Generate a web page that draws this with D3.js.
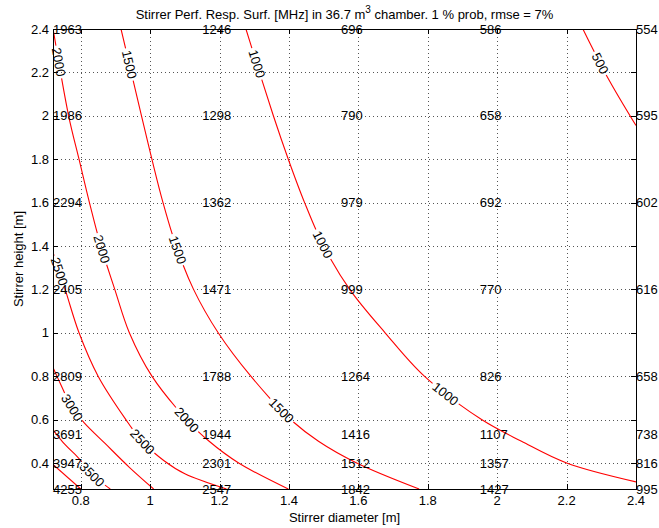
<!DOCTYPE html>
<html>
<head>
<meta charset="utf-8">
<script src="https://cdn.jsdelivr.net/npm/d3@7"></script>
<style>
  body { margin: 0; background: #fff; }
  text { font-family: "Liberation Sans", Arial, Helvetica, sans-serif; fill: #000; }
</style>
</head>
<body>
<svg id="chart" width="659" height="528"></svg>
<script>
// measured points: stirrer diameter (columns) x stirrer height (rows)
const diameters = [0.72, 1.15, 1.55, 1.95, 2.4];
const heights = [2.4, 2.0, 1.6, 1.2, 0.8, 0.53, 0.4, 0.28];
const freqs = [
  [1963, 1246, 696, 586, 554],
  [1986, 1298, 790, 658, 595],
  [2294, 1362, 979, 692, 602],
  [2405, 1471, 999, 770, 616],
  [2809, 1788, 1264, 826, 658],
  [3691, 1944, 1416, 1107, 738],
  [3947, 2301, 1512, 1357, 816],
  [4255, 2547, 1842, 1427, 995]
];

// contour lines of the fitted surface, [diameter, height]
const c500 = [[2.247, 2.4], [2.317, 2.18], [2.4, 1.955]];
const c1000 = [[1.276, 2.4], [1.355, 2.0], [1.398, 1.8], [1.445, 1.6], [1.5, 1.4], [1.575, 1.2],
  [1.677, 1.0], [1.79, 0.8], [1.955, 0.6], [2.07, 0.5], [2.2, 0.4], [2.4, 0.313]];
const c1500 = [[0.916, 2.4], [0.975, 2.0], [1.005, 1.8], [1.037, 1.6], [1.075, 1.4], [1.125, 1.2],
  [1.196, 1.0], [1.29, 0.8], [1.405, 0.6], [1.485, 0.5], [1.595, 0.4], [1.775, 0.28]];
const c2000 = [[0.715, 2.45], [0.765, 2.0], [0.795, 1.8], [0.825, 1.6], [0.858, 1.4], [0.898, 1.2],
  [0.94, 1.0], [1.005, 0.8], [1.105, 0.6], [1.17, 0.5], [1.255, 0.4], [1.398, 0.28]];
const c2500 = [[0.72, 1.37], [0.755, 1.2], [0.795, 1.0], [0.85, 0.8], [0.93, 0.6], [0.977, 0.5],
  [1.04, 0.41], [1.1, 0.35], [1.22, 0.28]];
const c3000 = [[0.72, 0.84], [0.74, 0.77], [0.775, 0.655], [0.81, 0.585], [0.87, 0.49], [0.94, 0.38], [1.01, 0.28]];
const c3500 = [[0.72, 0.553], [0.755, 0.484], [0.793, 0.424], [0.833, 0.346], [0.885, 0.28]];
const c4000 = [[0.72, 0.393], [0.8, 0.28]];

// where the inline contour labels sit
const l500 = [[2.296, 2.24]];
const l1000 = [[1.297, 2.235], [1.495, 1.406], [1.85, 0.715]];
const l1500 = [[0.937, 2.235], [1.078, 1.383], [1.377, 0.64]];
const l2000 = [[0.738, 2.249], [0.856, 1.383], [1.107, 0.6]];
const l2500 = [[0.735, 1.282], [0.977, 0.498]];
const l3000 = [[0.775, 0.655]];
const l3500 = [[0.833, 0.347]];
const l4000 = [];

const xTicks = [0.8, 1, 1.2, 1.4, 1.6, 1.8, 2, 2.2, 2.4];
const yTicks = [0.4, 0.6, 0.8, 1, 1.2, 1.4, 1.6, 1.8, 2, 2.2, 2.4];

const contours = [
  { level: 500, pts: c500, labels: l500 },
  { level: 1000, pts: c1000, labels: l1000 },
  { level: 1500, pts: c1500, labels: l1500 },
  { level: 2000, pts: c2000, labels: l2000 },
  { level: 2500, pts: c2500, labels: l2500 },
  { level: 3000, pts: c3000, labels: l3000 },
  { level: 3500, pts: c3500, labels: l3500 },
  { level: 4000, pts: c4000, labels: l4000 }
];

const mLeft = 53, mTop = 29, mRight = 636, mBottom = 489;
const fontSize = 13;

const svg = d3.select("#chart");
const x = d3.scaleLinear().domain([0.72, 2.4]).range([mLeft, mRight]);
const y = d3.scaleLinear().domain([0.28, 2.4]).range([mBottom, mTop]);

svg.append("defs").append("clipPath").attr("id", "plot")
  .append("rect")
  .attr("x", mLeft).attr("y", mTop)
  .attr("width", mRight - mLeft).attr("height", mBottom - mTop);

// dotted grid
const grid = svg.append("g").attr("stroke", "#555").attr("stroke-dasharray", "1,3")
  .attr("shape-rendering", "crispEdges");
grid.selectAll(".gx").data(xTicks.filter(d => d < 2.4)).enter().append("line")
  .attr("x1", d => Math.round(x(d)) + 0.5).attr("x2", d => Math.round(x(d)) + 0.5)
  .attr("y1", mTop).attr("y2", mBottom);
grid.selectAll(".gy").data(yTicks.filter(d => d < 2.4)).enter().append("line")
  .attr("y1", d => Math.round(y(d)) + 0.5).attr("y2", d => Math.round(y(d)) + 0.5)
  .attr("x1", mLeft).attr("x2", mRight);

// contours
const line = d3.line().x(d => x(d[0])).y(d => y(d[1])).curve(d3.curveCatmullRom.alpha(0.5));
const cg = svg.append("g").attr("clip-path", "url(#plot)");
const lg = svg.append("g");

contours.forEach(c => {
  const path = cg.append("path")
    .attr("d", line(c.pts))
    .attr("fill", "none")
    .attr("stroke", "#ff0000")
    .attr("stroke-width", 1.1);
  const node = path.node();
  const total = node.getTotalLength();
  const gaps = [];
  c.labels.forEach(lp => {
    const px = x(lp[0]), py = y(lp[1]);
    let best = 0, bestD = Infinity;
    for (let s = 0; s <= total; s += 0.5) {
      const p = node.getPointAtLength(s);
      const dd = (p.x - px) ** 2 + (p.y - py) ** 2;
      if (dd < bestD) { bestD = dd; best = s; }
    }
    const p = node.getPointAtLength(best);
    const p1 = node.getPointAtLength(Math.max(0, best - 3));
    const p2 = node.getPointAtLength(Math.min(total, best + 3));
    let ang = Math.atan2(p2.y - p1.y, p2.x - p1.x) * 180 / Math.PI;
    if (ang > 90) ang -= 180;
    if (ang < -90) ang += 180;
    const t = lg.append("text")
      .attr("transform", `translate(${p.x},${p.y}) rotate(${ang})`)
      .attr("text-anchor", "middle")
      .attr("dy", "0.35em")
      .style("font-size", fontSize + "px")
      .text(c.level);
    const w = t.node().getComputedTextLength() + 4;
    gaps.push([best - w / 2, best + w / 2]);
  });
  if (gaps.length) {
    gaps.sort((a, b) => a[0] - b[0]);
    const dash = [];
    let pos = 0;
    gaps.forEach(g => {
      const a = Math.max(pos, g[0]);
      dash.push(a - pos, g[1] - a);
      pos = g[1];
    });
    dash.push(total - pos + 20, 0);
    path.attr("stroke-dasharray", dash.join(","));
  }
});

// axes box and ticks
const ax = svg.append("g").attr("stroke", "#000").attr("shape-rendering", "crispEdges");
ax.append("rect")
  .attr("x", mLeft + 0.5).attr("y", mTop + 0.5)
  .attr("width", mRight - mLeft).attr("height", mBottom - mTop)
  .attr("fill", "none");
const tl = 5;
xTicks.forEach(d => {
  const px = Math.round(x(d)) + 0.5;
  ax.append("line").attr("x1", px).attr("x2", px).attr("y1", mBottom).attr("y2", mBottom - tl);
  ax.append("line").attr("x1", px).attr("x2", px).attr("y1", mTop).attr("y2", mTop + tl);
});
yTicks.forEach(d => {
  const py = Math.round(y(d)) + 0.5;
  ax.append("line").attr("y1", py).attr("y2", py).attr("x1", mLeft).attr("x2", mLeft + tl);
  ax.append("line").attr("y1", py).attr("y2", py).attr("x1", mRight).attr("x2", mRight - tl);
});

svg.append("g").selectAll("text").data(xTicks).enter().append("text")
  .attr("x", d => x(d)).attr("y", 505)
  .attr("text-anchor", "middle")
  .style("font-size", fontSize + "px")
  .text(d => d);
svg.append("g").selectAll("text").data(yTicks).enter().append("text")
  .attr("x", 49).attr("y", d => y(d)).attr("dy", "0.35em")
  .attr("text-anchor", "end")
  .style("font-size", fontSize + "px")
  .text(d => d);

// measured values
const vals = svg.append("g");
heights.forEach((h, i) => {
  diameters.forEach((dm, j) => {
    vals.append("text")
      .attr("x", x(dm)).attr("y", y(h)).attr("dy", "0.35em")
      .style("font-size", fontSize + "px")
      .text(freqs[i][j]);
  });
});

// titles
const title = svg.append("text")
  .attr("x", (mLeft + mRight) / 2).attr("y", 19)
  .attr("text-anchor", "middle")
  .style("font-size", fontSize + "px");
title.append("tspan").text("Stirrer Perf. Resp. Surf. [MHz] in 36.7 m");
title.append("tspan").attr("dy", -6).style("font-size", "10px").text("3");
title.append("tspan").attr("dy", 6).text(" chamber. 1 % prob, rmse = 7%");

svg.append("text")
  .attr("x", (mLeft + mRight) / 2).attr("y", 522)
  .attr("text-anchor", "middle")
  .style("font-size", fontSize + "px")
  .text("Stirrer diameter [m]");
svg.append("text")
  .attr("transform", `translate(23,${(mTop + mBottom) / 2}) rotate(-90)`)
  .attr("text-anchor", "middle")
  .style("font-size", fontSize + "px")
  .text("Stirrer height [m]");
</script>
</body>
</html>
